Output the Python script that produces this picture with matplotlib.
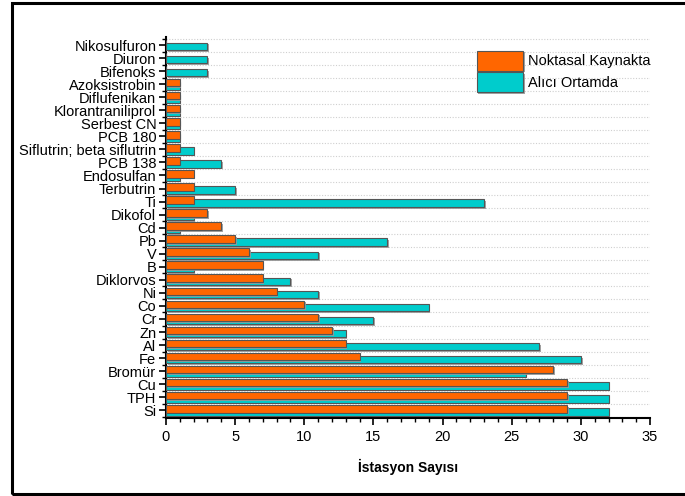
import numpy as np
import matplotlib.pyplot as plt
import matplotlib.patheffects as pe
from matplotlib.patches import Rectangle
from matplotlib.ticker import MultipleLocator

plt.rcParams['font.family'] = ['Liberation Sans', 'DejaVu Sans']

# categories listed top to bottom as in the chart
categories = ['Nikosulfuron', 'Diuron', 'Bifenoks', 'Azoksistrobin', 'Diflufenikan',
              'Klorantraniliprol', 'Serbest CN', 'PCB 180', 'Siflutrin; beta siflutrin',
              'PCB 138', 'Endosulfan', 'Terbutrin', 'Ti', 'Dikofol', 'Cd', 'Pb', 'V', 'B',
              'Diklorvos', 'Ni', 'Co', 'Cr', 'Zn', 'Al', 'Fe', 'Bromür', 'Cu', 'TPH', 'Si']
noktasal = [0, 0, 0, 1, 1, 1, 1, 1, 1, 1, 2, 2, 2, 3, 4, 5, 6, 7, 7, 8, 10, 11, 12, 13, 14,
            28, 29, 29, 29]
alici = [3, 3, 3, 1, 1, 1, 1, 1, 2, 4, 1, 5, 23, 2, 1, 16, 11, 2, 9, 11, 19, 15, 13, 27,
         30, 26, 32, 32, 32]

orange = '#ff6600'
cyan = '#00cccc'

fig = plt.figure(figsize=(6.85, 4.96), dpi=100)
ax = fig.add_axes([0.2423, 0.157, 0.7067, 0.768])

n = len(categories)
y = np.arange(n)[::-1]
h = 0.58
off = 0.12
shadow = [pe.SimplePatchShadow(offset=(1.2, -1.2), shadow_rgbFace='#999999', alpha=0.9), pe.Normal()]

ax.barh(y - off, alici, height=h, color=cyan, edgecolor='#555555', linewidth=0.8,
        label='Alıcı Ortamda', zorder=3, path_effects=shadow)
ax.barh(y + off, noktasal, height=h, color=orange, edgecolor='#555555', linewidth=0.8,
        label='Noktasal Kaynakta', zorder=4, path_effects=shadow)

ax.set_xlim(0, 35)
ax.set_ylim(-0.6, n - 0.4)
ax.set_yticks(y)
ax.set_yticklabels(categories, fontsize=10.5)
ax.yaxis.set_minor_locator(MultipleLocator(1, offset=0.5))
ax.xaxis.set_major_locator(MultipleLocator(5))
ax.xaxis.set_minor_locator(MultipleLocator(1))
ax.tick_params(axis='x', which='major', labelsize=10.5, length=5, width=1.2, direction='out')
ax.tick_params(axis='x', which='minor', length=3, width=1, direction='out')
ax.tick_params(axis='y', which='major', length=5, width=1.2, direction='out', pad=2)
ax.tick_params(axis='y', which='minor', length=3, width=1, direction='out')

ax.grid(axis='y', which='minor', linestyle=(0, (1, 1.5)), color='#cfcfcf', linewidth=0.8, zorder=0)
ax.spines['top'].set_visible(False)
ax.spines['right'].set_visible(False)
ax.spines['left'].set_linewidth(1.5)
ax.spines['bottom'].set_linewidth(1.5)

ax.set_xlabel('İstasyon Sayısı', fontsize=10, fontweight='bold', labelpad=11)

handles, labels = ax.get_legend_handles_labels()
ax.legend(handles[::-1], labels[::-1], loc='upper left', bbox_to_anchor=(0.63, 0.98),
          frameon=False, fontsize=10.5, handlelength=3.2, handleheight=1.75,
          handletextpad=0.3, labelspacing=0.1, borderaxespad=0)

fig.patches.append(Rectangle((0.0175, 0.004), 1.0, 0.99, transform=fig.transFigure,
                             fill=False, edgecolor='black', linewidth=2.2))

fig.savefig('out.png', dpi=100)
